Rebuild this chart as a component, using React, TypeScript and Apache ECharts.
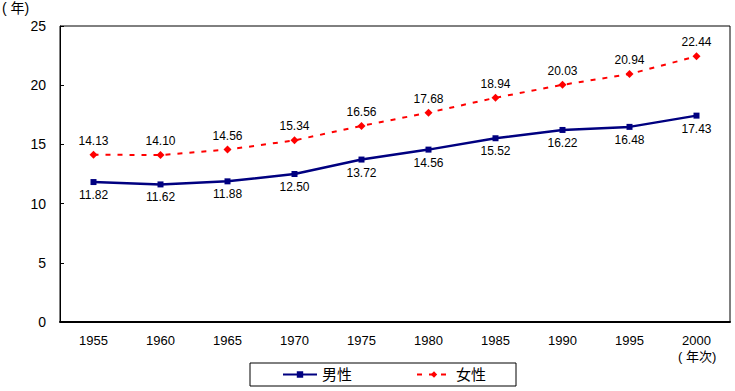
import React, { useEffect, useRef } from "react";
import * as echarts from "echarts";

const years = ["1955", "1960", "1965", "1970", "1975", "1980", "1985", "1990", "1995", "2000"];
const male = [11.82, 11.62, 11.88, 12.5, 13.72, 14.56, 15.52, 16.22, 16.48, 17.43];
const female = [14.13, 14.1, 14.56, 15.34, 16.56, 17.68, 18.94, 20.03, 20.94, 22.44];
const yTicks = [0, 5, 10, 15, 20, 25];

const FONT = "'Liberation Sans', 'Noto Sans CJK JP', sans-serif";

export default function App() {
  const ref = useRef<HTMLDivElement>(null);
  useEffect(() => {
    const chart = echarts.init(ref.current!, null, { renderer: "svg" });
    chart.setOption({
      animation: false,
      textStyle: { fontFamily: FONT, color: "#000" },
      grid: {
        left: 60,
        right: 5,
        top: 26,
        bottom: 69,
        show: true,
        borderColor: "#000",
        borderWidth: 1,
      },
      legend: {
        left: 250,
        top: 363,
        width: 263,
        padding: [4, 30, 4, 32],
        borderColor: "#000",
        borderWidth: 1,
        itemWidth: 34,
        itemHeight: 8,
        itemGap: 64,
        textStyle: { fontSize: 15, color: "#000", fontFamily: FONT },
        data: ["男性", "女性"],
      },
      graphic: [
        { type: "text", left: 2, top: 1, style: { text: "( 年)", fontSize: 14, fill: "#000", fontFamily: FONT } },
        { type: "text", left: 678, top: 350, style: { text: "( 年次)", fontSize: 13, fill: "#000", fontFamily: FONT } },
      ],
      xAxis: {
        type: "category",
        data: years,
        boundaryGap: true,
        axisLine: { lineStyle: { color: "#000", width: 2 } },
        axisTick: { inside: true, length: 4, lineStyle: { color: "#000" } },
        axisLabel: { color: "#000", fontSize: 13, margin: 12, fontFamily: FONT },
      },
      yAxis: {
        type: "value",
        min: yTicks[0],
        max: yTicks[yTicks.length - 1],
        interval: 5,
        splitLine: { show: false },
        axisLine: { show: true, lineStyle: { color: "#000", width: 1 } },
        axisTick: { show: true, inside: true, length: 4, lineStyle: { color: "#000" } },
        axisLabel: { color: "#000", fontSize: 14, margin: 14, fontFamily: FONT },
      },
      series: [
        {
          name: "男性",
          type: "line",
          data: male,
          symbol: "rect",
          symbolSize: 6,
          itemStyle: { color: "#000080" },
          lineStyle: { color: "#000080", width: 2.5 },
          label: {
            show: true,
            position: "bottom",
            distance: 4,
            color: "#000",
            fontSize: 12,
            fontFamily: FONT,
            formatter: (p: any) => p.value.toFixed(2),
          },
        },
        {
          name: "女性",
          type: "line",
          data: female,
          symbol: "diamond",
          symbolSize: 8,
          itemStyle: { color: "#FF0000" },
          lineStyle: { color: "#FF0000", width: 2, type: [5, 7] },
          label: {
            show: true,
            position: "top",
            distance: 4,
            color: "#000",
            fontSize: 12,
            fontFamily: FONT,
            formatter: (p: any) => p.value.toFixed(2),
          },
        },
      ],
    });
    return () => chart.dispose();
  }, []);
  return <div ref={ref} style={{ width: 735, height: 391, position: "absolute", left: 0, top: 0 }} />;
}
